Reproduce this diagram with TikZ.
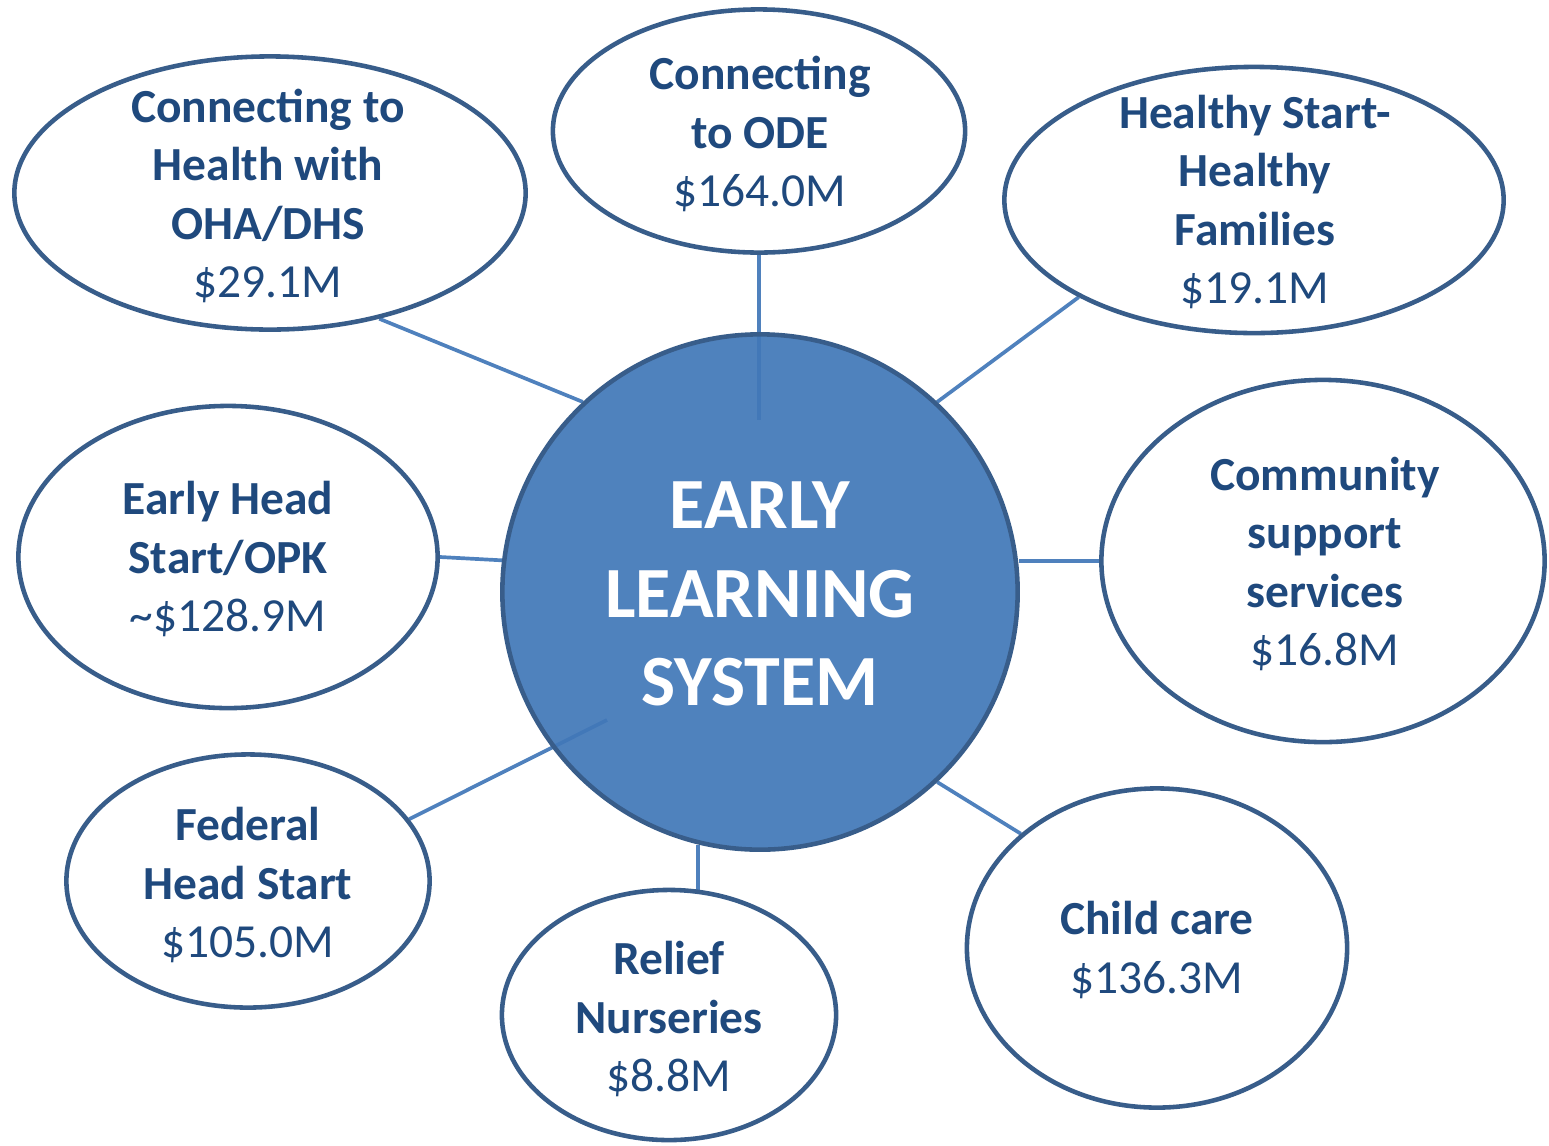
\documentclass[tikz,border=0pt]{standalone}
\usepackage{fontspec}
\setmainfont{Carlito}
\usetikzlibrary{shapes.geometric,backgrounds}
\definecolor{txtblue}{HTML}{1F497D}
\definecolor{fillblue}{HTML}{4278B8}
\definecolor{edgeblue}{HTML}{385D8A}
\definecolor{linkblue}{HTML}{4F81BD}
\tikzset{
  bub/.style={ellipse, draw=edgeblue, line width=1.3pt, fill=white, inner sep=0pt},
  hub/.style={circle, draw=edgeblue, line width=1.3pt, fill=fillblue, fill opacity=0.93, draw opacity=1, text opacity=1, inner sep=0pt, minimum size=5.15cm},
  lbl/.style={align=center, text=txtblue, inner sep=0pt, font=\fontsize{13.5}{16.6}\selectfont},
  hublbl/.style={align=center, text=white, inner sep=0pt, font=\fontsize{20.5}{25.2}\selectfont\bfseries},
  link/.style={draw=linkblue, line width=1.05pt}
}
\begin{document}
\begin{tikzpicture}[x=0.01cm,y=-0.01cm]
\useasboundingbox (0,0) rectangle (1549,1145);
% bubbles
\node[bub, minimum width=5.11cm, minimum height=2.73cm] (e1) at (270,193) {};
\node[bub, minimum width=4.12cm, minimum height=2.43cm] (e2) at (759,131) {};
\node[bub, minimum width=4.99cm, minimum height=2.66cm] (e3) at (1254,200) {};
\node[bub, minimum width=4.43cm, minimum height=3.62cm] (e4) at (1323,561) {};
\node[bub, minimum width=3.80cm, minimum height=3.19cm] (e5) at (1157,948) {};
\node[bub, minimum width=3.34cm, minimum height=2.50cm] (e6) at (669,1015) {};
\node[bub, minimum width=3.63cm, minimum height=2.53cm] (e7) at (248,881) {};
\node[bub, minimum width=4.19cm, minimum height=3.02cm] (e8) at (228,557) {};
% hub
\node[hub] (c) at (760,592) {};
\coordinate (odein) at (759,420);
\coordinate (fedin) at (607,720);
% connectors
\begin{scope}[on background layer]
\draw[link] (e1.-49) -- (c.133.3);
\draw[link] (e2.south) -- (odein);
\draw[link] (e3.-151.5) -- (c.47.3);
\draw[link] (e4.west) -- (c.6.8 |- e4.west);
\draw[link] (e5.140.5) -- (c.-47.2);
\draw[link] (e6.77) -- (c.-103.8 -| e6.77);
\draw[link] (e7.21.3) -- (fedin);
\draw[link] (e8.east) -- (c.173.1);
\end{scope}
% labels
\node[lbl] (t1) at (268,196) {\textbf{Connecting to}\\\textbf{Health with}\\\textbf{OHA/DHS}\\\$29.1M};
\node[lbl] (t2) at (760,134) {\textbf{Connecting}\\\textbf{to ODE}\\\$164.0M};
\node[lbl] (t3) at (1255,202) {\textbf{Healthy Start-}\\\textbf{Healthy}\\\textbf{Families}\\\$19.1M};
\node[lbl] (t4) at (1325,564) {\textbf{Community}\\\textbf{support}\\\textbf{services}\\\$16.8M};
\node[lbl] (t5) at (1157,950) {\textbf{Child care}\\\$136.3M};
\node[lbl] (t6) at (669,1019) {\textbf{Relief}\\\textbf{Nurseries}\\\$8.8M};
\node[lbl] (t7) at (248,885) {\textbf{Federal}\\\textbf{Head Start}\\\$105.0M};
\node[lbl] (t8) at (228,559) {\textbf{Early Head}\\\textbf{Start/OPK}\\\textasciitilde\$128.9M};
\node[hublbl] (tc) at (760,594) {EARLY\\LEARNING\\SYSTEM};
\end{tikzpicture}
\end{document}
